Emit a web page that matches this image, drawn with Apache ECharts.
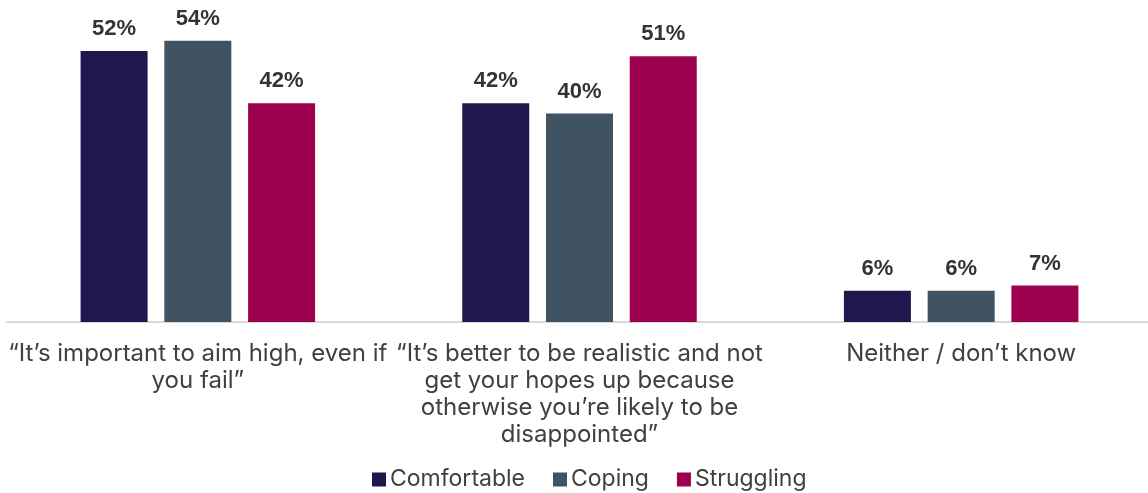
<!DOCTYPE html>
<html>
<head>
<meta charset="utf-8">
<script src="https://cdn.jsdelivr.net/npm/echarts@6/dist/echarts.min.js"></script>
<style>
  html, body { margin: 0; padding: 0; background: #ffffff; }
  #chart { width: 1148px; height: 493px; }
</style>
</head>
<body>
<div id="chart"></div>
<script>
// Survey answers by financial situation (%)
const categories = [
  '\u201cIt\u2019s important to aim high, even if\nyou fail\u201d',
  '\u201cIt\u2019s better to be realistic and not\nget your hopes up because\notherwise you\u2019re likely to be\ndisappointed\u201d',
  'Neither / don\u2019t know'
];
const seriesNames = ['Comfortable', 'Coping', 'Struggling'];
const comfortable = [52, 42, 6];
const coping = [54, 40, 6];
const struggling = [42, 51, 7];
const colors = ['#21174f', '#405362', '#9c004f'];

const chart = echarts.init(document.getElementById('chart'));

const values = [comfortable, coping, struggling];
const series = seriesNames.map((name, i) => ({
  name: name,
  type: 'bar',
  data: values[i],
  barWidth: 67,
  barGap: '25%',
  itemStyle: { color: colors[i] },
  label: {
    show: true,
    position: 'top',
    distance: 11,
    formatter: '{c}%',
    fontFamily: 'Liberation Sans',
    fontWeight: 'bold',
    fontSize: 22,
    color: '#333333'
  }
}));

chart.setOption({
  animation: false,
  textStyle: { fontFamily: 'Inter' },
  grid: { left: 7, top: 0, width: 1145, height: 322, containLabel: false, outerBoundsMode: 'none' },
  legend: {
    top: 463,
    left: 367,
    icon: 'rect',
    itemWidth: 14,
    itemHeight: 14,
    itemGap: 28,
    textStyle: { fontFamily: 'Inter', fontSize: 23, color: '#404040', padding: [0, 0, 0, -1] },
    data: seriesNames
  },
  xAxis: {
    type: 'category',
    data: categories,
    axisLine: { lineStyle: { color: '#d9d9d9', width: 2 } },
    axisTick: { show: false },
    axisLabel: {
      interval: 0,
      margin: 18,
      fontFamily: 'Inter',
      fontSize: 24,
      lineHeight: 27,
      color: '#404040',
      align: 'center'
    }
  },
  yAxis: {
    type: 'value',
    min: 0,
    max: 61.8,
    show: false,
    splitLine: { show: false }
  },
  series: series
});
</script>
</body>
</html>
